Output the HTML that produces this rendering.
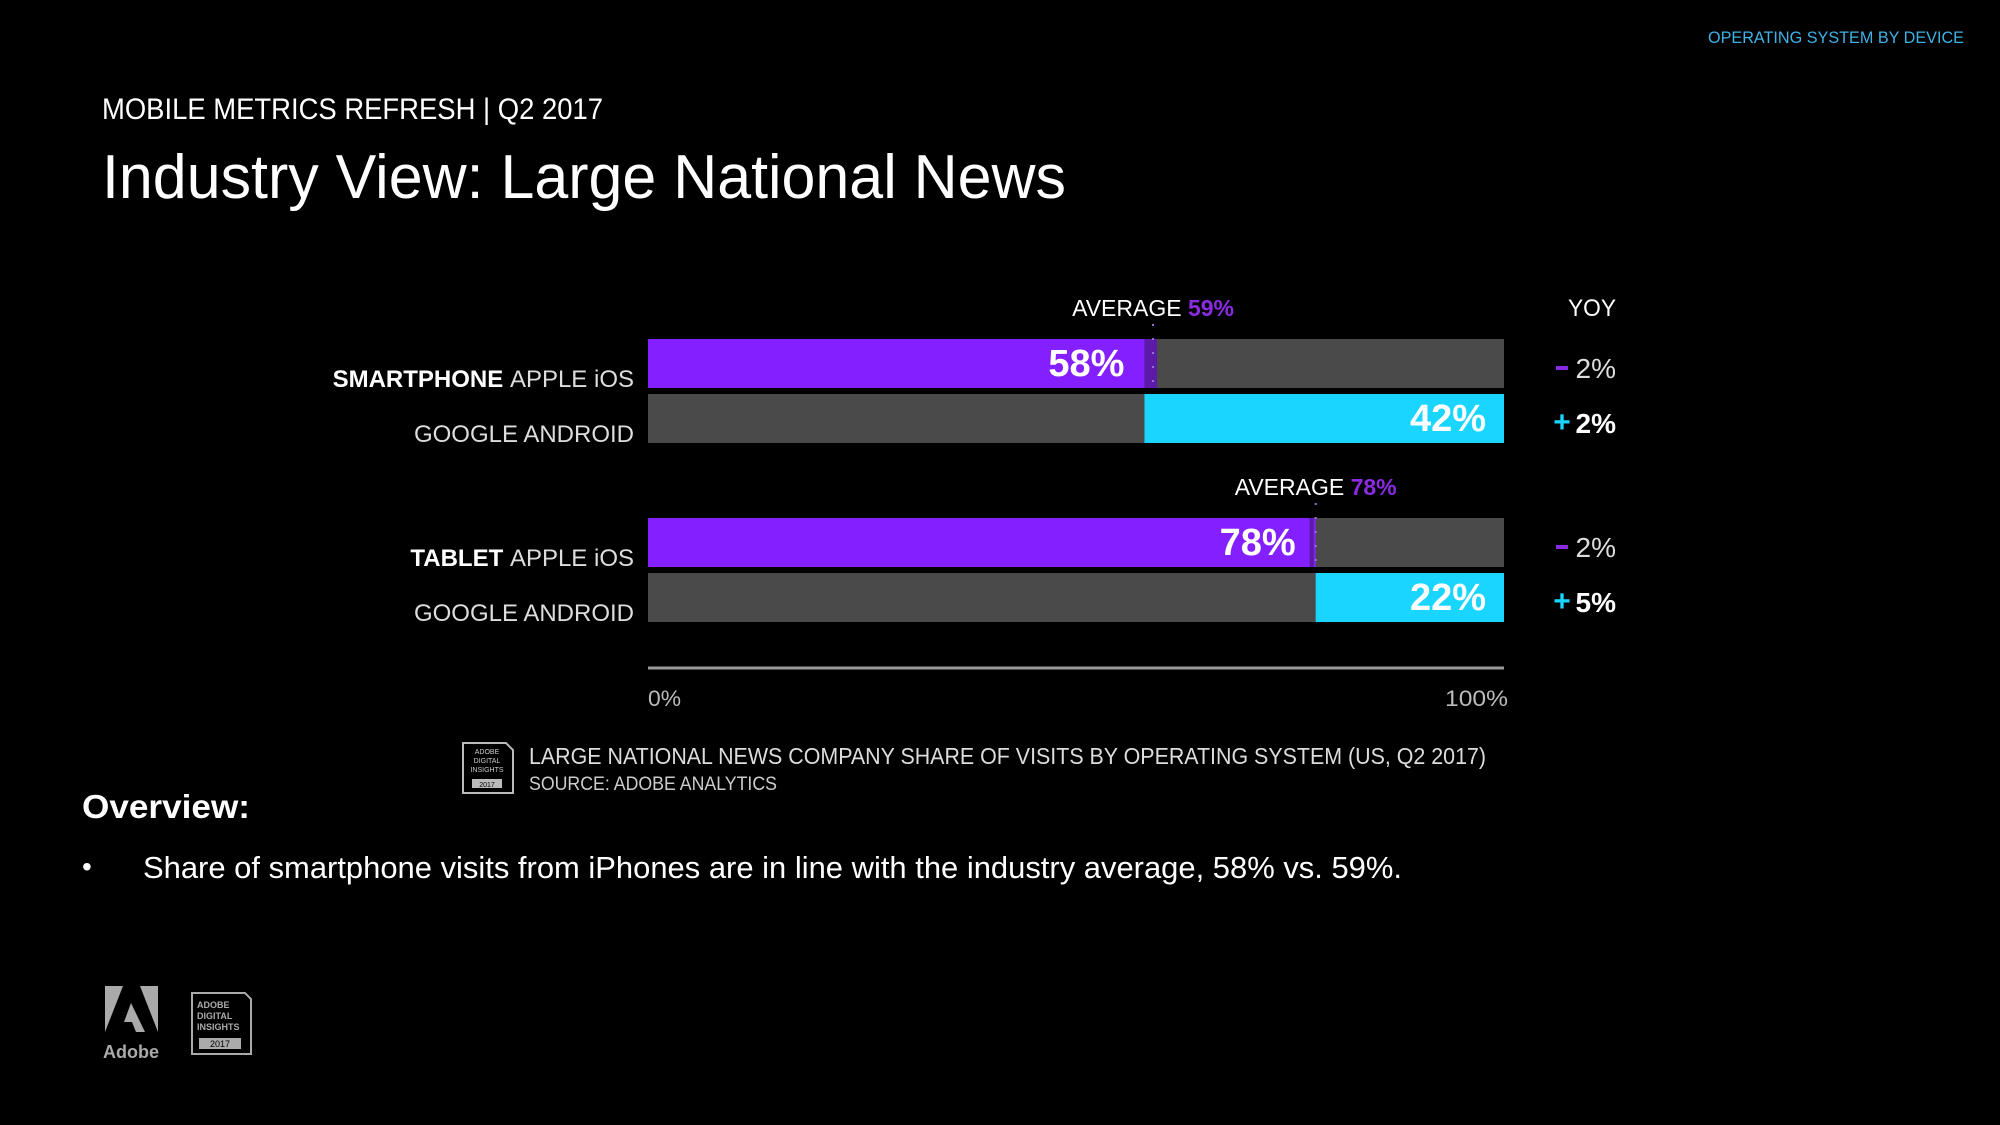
<!DOCTYPE html>
<html><head><meta charset="utf-8"><style>
html,body{margin:0;padding:0;background:#000;}
svg{display:block;font-family:"Liberation Sans",sans-serif;}
</style></head><body>
<svg id="chart" width="2000" height="1125" viewBox="0 0 2000 1125">
<rect x="0" y="0" width="2000" height="1125" fill="#000"/>
<text x="1964" y="43" text-anchor="end" font-size="17" fill="#3fb3e6" textLength="256" lengthAdjust="spacingAndGlyphs">OPERATING SYSTEM BY DEVICE</text>
<text x="102" y="119" font-size="30" fill="#fff" textLength="501" lengthAdjust="spacingAndGlyphs">MOBILE METRICS REFRESH | Q2 2017</text>
<text x="102" y="198" font-size="62" fill="#fff" textLength="964" lengthAdjust="spacingAndGlyphs">Industry View: Large National News</text>
<text x="1616" y="316" text-anchor="end" font-size="24" fill="#fff" textLength="48" lengthAdjust="spacingAndGlyphs">YOY</text>
<g id="bars"></g>
<line x1="648" y1="668" x2="1504" y2="668" stroke="#9a9a9a" stroke-width="3"/>
<text x="648" y="706" font-size="22" fill="#bbb" textLength="33" lengthAdjust="spacingAndGlyphs">0%</text>
<text x="1508" y="706" text-anchor="end" font-size="22" fill="#bbb" textLength="63" lengthAdjust="spacingAndGlyphs">100%</text>
<g>
<path d="M463 743 H506 L513 750 V793 H463 Z" fill="none" stroke="#bbb" stroke-width="2"/>
<text x="487" y="754" font-size="7" fill="#ccc" text-anchor="middle">ADOBE</text>
<text x="487" y="763" font-size="7" fill="#ccc" text-anchor="middle">DIGITAL</text>
<text x="487" y="772" font-size="7" fill="#ccc" text-anchor="middle">INSIGHTS</text>
<rect x="472" y="779" width="30" height="9" fill="#bbb"/>
<text x="487" y="787" font-size="7" fill="#000" text-anchor="middle">2017</text>
</g>
<text x="529" y="764" font-size="23" fill="#ddd" textLength="957" lengthAdjust="spacingAndGlyphs">LARGE NATIONAL NEWS COMPANY SHARE OF VISITS BY OPERATING SYSTEM (US, Q2 2017)</text>
<text x="529" y="790" font-size="19" fill="#ccc" textLength="248" lengthAdjust="spacingAndGlyphs">SOURCE: ADOBE ANALYTICS</text>
<text x="82" y="818" font-size="33" font-weight="bold" fill="#fff" textLength="168" lengthAdjust="spacingAndGlyphs">Overview:</text>
<text x="82" y="876" font-size="28" fill="#fff">•</text>
<text x="143" y="878" font-size="31" fill="#fff" textLength="1259" lengthAdjust="spacingAndGlyphs">Share of smartphone visits from iPhones are in line with the industry average, 58% vs. 59%.</text>
<g>
<path d="M105 986 H123 L105 1032 Z" fill="#aaa"/>
<path d="M140 986 H158 V1032 Z" fill="#aaa"/>
<path d="M131 1003 L145 1032 H136 L132 1022 H124 Z" fill="#aaa"/>
<text x="131" y="1058" font-size="18" font-weight="bold" fill="#aaa" text-anchor="middle">Adobe</text>
</g>
<g>
<path d="M192 993 H245 L251 999 V1054 H192 Z" fill="none" stroke="#aaa" stroke-width="2"/>
<text x="197" y="1008" font-size="9" font-weight="bold" fill="#aaa">ADOBE</text>
<text x="197" y="1019" font-size="9" font-weight="bold" fill="#aaa">DIGITAL</text>
<text x="197" y="1030" font-size="9" font-weight="bold" fill="#aaa">INSIGHTS</text>
<rect x="199" y="1038" width="42" height="11" fill="#aaa"/>
<text x="220" y="1047" font-size="9" fill="#000" text-anchor="middle">2017</text>
</g>
</svg>
<script>
const groups = ["SMARTPHONE", "TABLET"];
const iosValues = [58, 78];
const androidValues = [42, 22];
const averages = [59, 78];
const yoyIos = ["2%", "2%"];
const yoyAndroid = ["2%", "5%"];

const NS = "http://www.w3.org/2000/svg";
const g = document.getElementById("bars");
const X0 = 648, X1 = 1504;
function xs(v){ return X0 + (X1 - X0) * v / 100; }
const groupTop = [339, 518];
const barH = 49, gap = 6;
const avgTextY = [316, 495];
function el(tag, attrs, txt){
  const e = document.createElementNS(NS, tag);
  for (const k in attrs) e.setAttribute(k, attrs[k]);
  if (txt !== undefined) e.textContent = txt;
  g.appendChild(e);
  return e;
}
groups.forEach((name, i) => {
  const y1 = groupTop[i], y2 = y1 + barH + gap;
  const ios = iosValues[i], and = androidValues[i], avg = averages[i];
  let e;
  e = el("rect", {x: X0, y: y1, width: X1 - X0, height: barH, fill: "#4a4a4a"});
  
  
  e = el("rect", {x: X0, y: y1, width: xs(ios) - X0, height: barH, fill: "#8420ff"});
  
  
  const ax = xs(avg);
  e = el("rect", {x: Math.min(xs(ios), ax - 6), y: y1, width: Math.abs(ax - xs(ios)) + 4, height: barH, fill: "#5b1aa8"});
  
  
  e = el("line", {x1: ax, y1: y1 - 15, x2: ax, y2: y1 + barH, stroke: "#9a70d8", "stroke-width": 2, "stroke-dasharray": "2 12"});
  
  
  e = el("text", {x: xs(ios) - 20, y: y1 + 37, "text-anchor": "end", "font-size": 38, "font-weight": "bold", fill: "#fff"}, ios + "%");
  
  
  e = el("rect", {x: X0, y: y2, width: X1 - X0, height: barH, fill: "#4a4a4a"});
  
  
  e = el("rect", {x: xs(100 - and), y: y2, width: X1 - xs(100 - and), height: barH, fill: "#19d5ff"});
  
  
  e = el("text", {x: X1 - 18, y: y2 + 37, "text-anchor": "end", "font-size": 38, "font-weight": "bold", fill: "#fff"}, and + "%");
  
  
  const t = el("text", {x: ax, y: avgTextY[i], "text-anchor": "middle", "font-size": 23, fill: "#fff"});
  
  
  const s1 = document.createElementNS(NS, "tspan"); s1.textContent = "AVERAGE "; t.appendChild(s1);
  const s2 = document.createElementNS(NS, "tspan"); s2.textContent = avg + "%"; s2.setAttribute("fill", "#8a2be2"); s2.setAttribute("font-weight", "bold"); t.appendChild(s2);
  const lab = el("text", {x: 634, y: y1 + 48, "text-anchor": "end", "font-size": 24, fill: "#ddd"});
  
  
  const b = document.createElementNS(NS, "tspan"); b.textContent = name + " "; b.setAttribute("font-weight", "bold"); b.setAttribute("fill", "#fff"); lab.appendChild(b);
  const c = document.createElementNS(NS, "tspan"); c.textContent = "APPLE iOS"; lab.appendChild(c);
  e = el("text", {x: 634, y: y2 + 48, "text-anchor": "end", "font-size": 24, fill: "#ddd"}, "GOOGLE ANDROID");
  
  
  e = el("rect", {x: 1556, y: y1 + 27, width: 12, height: 4, fill: "#8a2be2"});
  
  
  e = el("text", {x: 1616, y: y1 + 39, "text-anchor": "end", "font-size": 28, fill: "#ddd"}, yoyIos[i]);
  
  
  e = el("text", {x: 1562, y: y2 + 38, "text-anchor": "middle", "font-size": 30, "font-weight": "bold", fill: "#19d5ff"}, "+");
  
  
  e = el("text", {x: 1616, y: y2 + 39, "text-anchor": "end", "font-size": 28, "font-weight": "bold", fill: "#fff"}, yoyAndroid[i]);
  
  
});
</script>
</body></html>
